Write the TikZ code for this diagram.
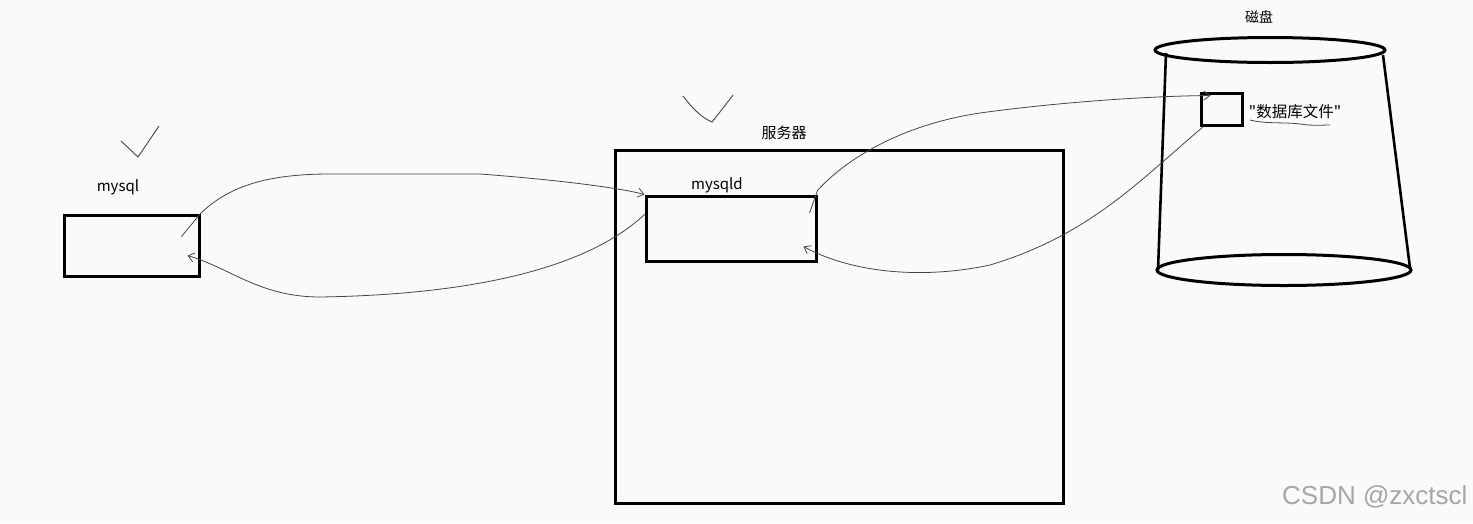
\documentclass[tikz,border=0pt]{standalone}
\usepackage{fontspec}
\newfontfamily\cjk{Noto Sans CJK SC}
\newfontfamily\wmfont{Liberation Sans}
\usetikzlibrary{shapes.geometric,arrows.meta}
\definecolor{bgc}{RGB}{250,250,250}
\definecolor{penc}{RGB}{70,70,70}
\tikzset{
  box/.style={draw=black, line width=3pt, rectangle, inner sep=0pt},
  conn/.style={draw=penc, line width=0.8pt, -{Straight Barb[length=6pt,width=9pt]}},
  tick/.style={draw=penc, line width=0.9pt},
  lbl/.style={font=\cjk\fontsize{15}{15}\selectfont, inner sep=0pt},
  disk/.style={draw=black, line width=3pt, ellipse, inner sep=0pt}
}
\begin{document}
\begin{tikzpicture}[x=1pt,y=-1pt]
\fill[bgc] (0,0) rectangle (1473,523);
\useasboundingbox (0,0) rectangle (1473,523);

% boxes
\node[box, minimum width=135, minimum height=61] (mysql) at (131.5,245.5) {};
\node[box, minimum width=448, minimum height=353] (server) at (839,326.5) {};
\node[box, minimum width=170, minimum height=65] (mysqld) at (731,228.5) {};

% labels
\node[lbl] (lmysql) at (118,187) {mysql};
\node[lbl] (lmysqld) at (717,185) {mysqld};
\node[lbl] (lserver) at (784,133) {服务器};
\node[lbl, font=\cjk\fontsize{14}{14}\selectfont] (ldisk) at (1259,17) {磁盘};

% disk cylinder
\node[disk, minimum width=230, minimum height=25] (disktop) at (1270,50) {};
\node[disk, minimum width=254, minimum height=31] (diskbot) at (1284,270) {};
\draw[line width=2.6pt] (1166,53) -- (1158,270);
\draw[line width=2.6pt] (1383,55) -- (1410,268);

% file box in disk
\node[box, minimum width=41, minimum height=32] (file) at (1221.5,109) {};
\node[lbl, font=\cjk\fontsize{15.5}{15.5}\selectfont] (lfile) at (1295,112) {"数据库文件"};
\draw[tick, line width=0.8pt] (1250,120) .. controls (1265,124) and (1285,122) .. (1300,124) .. controls (1312,126) and (1322,125) .. (1330,125);

% check marks
\draw[tick] (121,141) -- (138,157) -- (159,126);
\draw[tick] (683,96) .. controls (692,108) and (702,118) .. (712,122) .. controls (720,112) and (727,103) .. (733,95);

% connectors
\draw[conn] ([shift={(-19,23)}]mysql.north east) -- (mysql.north east)
  .. controls (230,185) and (270,174) .. (330,174) -- (480,174)
  .. controls (560,180) and (620,188) .. (mysqld.north west);
\draw[conn] ([yshift=14]mysqld.west)
  .. controls (580,275) and (450,295) .. (320,297)
  .. controls (260,297) and (230,268) .. ([shift={(-13,10)}]mysql.east);
\draw[conn] ([shift={(-8,-15.5)}]mysqld.east) -- ([yshift=4]mysqld.north east)
  .. controls (845,160) and (900,125) .. (980,113)
  .. controls (1060,102) and (1150,96) .. ([shift={(11,4)}]file.north west);
\draw[conn] ([xshift=4]file.south west)
  .. controls (1140,180) and (1090,235) .. (990,265)
  .. controls (920,280) and (850,272) .. ([shift={(-14,18)}]mysqld.east);

% watermark
\node[anchor=west, inner sep=0pt, font=\wmfont\fontsize{26}{26}\selectfont, text=black!35] (wm) at (1282,497) {CSDN @zxctscl};
\end{tikzpicture}
\end{document}
